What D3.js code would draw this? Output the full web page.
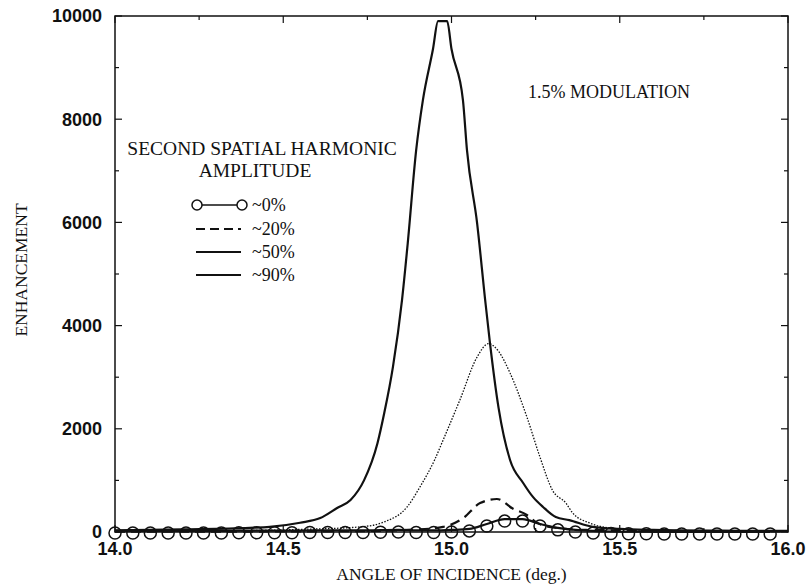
<!DOCTYPE html>
<html>
<head>
<meta charset="utf-8">
<script src="https://cdn.jsdelivr.net/npm/d3@7"></script>
<style>
  html, body { margin: 0; padding: 0; background: #fff; }
  svg { display: block; }
</style>
</head>
<body>
<div id="chart"></div>
<script>
// ~90% (solid)
const angle90 = [14.0, 14.2, 14.4, 14.46, 14.55, 14.61, 14.66, 14.70, 14.74, 14.78, 14.80, 14.826, 14.853, 14.87, 14.895, 14.915, 14.945, 14.96, 14.987, 15.0, 15.034, 15.046, 15.076, 15.10, 15.114, 15.14, 15.174, 15.213, 15.242, 15.272, 15.31, 15.35, 15.42, 15.5, 15.6, 15.8, 16.0]
const value90 = [30, 50, 80, 100, 180, 270, 465, 620, 1000, 1720, 2300, 3200, 4500, 5600, 7400, 8370, 9360, 9900, 9900, 9360, 8370, 7400, 5990, 4500, 3680, 2400, 1395, 950, 680, 485, 290, 230, 100, 60, 40, 25, 20]

// ~50% (dotted)
const angle50 = [14.0, 14.3, 14.55, 14.73, 14.80, 14.868, 14.906, 14.95, 14.975, 15.025, 15.076, 15.11, 15.14, 15.174, 15.224, 15.263, 15.30, 15.34, 15.36, 15.41, 15.47, 15.6, 16.0]
const value50 = [10, 20, 50, 100, 195, 485, 870, 1400, 1780, 2560, 3390, 3650, 3500, 3080, 2230, 1450, 810, 560, 370, 175, 80, 30, 15]

// ~20% (dashed)
const angle20 = [14.0, 14.7, 14.9, 14.975, 15.035, 15.085, 15.135, 15.183, 15.224, 15.25, 15.29, 15.4, 16.0]
const value20 = [5, 15, 50, 100, 270, 560, 640, 450, 330, 195, 100, 40, 10]

// ~0% (line with circles)
const angle0 = [14.0, 14.053, 14.105, 14.158, 14.211, 14.263, 14.316, 14.368, 14.421, 14.474, 14.526, 14.579, 14.632, 14.684, 14.737, 14.789, 14.842, 14.895, 14.947, 15.0, 15.053, 15.105, 15.158, 15.211, 15.263, 15.316, 15.368, 15.421, 15.474, 15.526, 15.579, 15.632, 15.684, 15.737, 15.789, 15.842, 15.895, 15.947]
const value0 = [20, 20, 20, 20, 20, 20, 20, 25, 25, 25, 25, 30, 30, 30, 30, 35, 40, 30, 30, 40, 60, 155, 250, 250, 155, 80, 40, 20, 10, 5, 5, 0, 0, 0, 0, 0, 0, 0]

const xTicks = [14.0, 14.5, 15.0, 15.5, 16.0]
const yTicks = [0, 2000, 4000, 6000, 8000, 10000]
const legendLabels = ["~0%", "~20%", "~50%", "~90%"]

const W = 809, H = 588
const m = {left: 115, right: 21, top: 16, bottom: 56}

const svg = d3.select('#chart')
    .append('svg')
    .attr('width', W)
    .attr('height', H)

const x = d3.scaleLinear([14, 16], [m.left, W - m.right])
const y = d3.scaleLinear([0, 10000], [H - m.bottom, m.top])

const ink = "#111"
const serif = "'Liberation Serif', 'DejaVu Serif', serif"
const sans = "'Liberation Sans', Arial, sans-serif"

// frame
svg.append("rect")
    .attr("x", x(14)).attr("y", y(10000))
    .attr("width", x(16) - x(14)).attr("height", y(0) - y(10000))
    .attr("fill", "none").attr("stroke", ink).attr("stroke-width", 1.5)

// ticks, pointing inward on all four sides
const g = svg.append("g").attr("stroke", ink).attr("stroke-width", 1.2)
d3.range(0, 10001, 1000).forEach(v => {
    const len = v % 2000 === 0 ? 7 : 4
    g.append("line").attr("x1", x(14)).attr("x2", x(14) + len).attr("y1", y(v)).attr("y2", y(v))
    g.append("line").attr("x1", x(16)).attr("x2", x(16) - len).attr("y1", y(v)).attr("y2", y(v))
})
d3.range(14, 16.001, 0.25).forEach(a => {
    const len = Math.abs(a * 2 - Math.round(a * 2)) < 1e-6 ? 7 : 4
    g.append("line").attr("x1", x(a)).attr("x2", x(a)).attr("y1", y(0)).attr("y2", y(0) - len)
    g.append("line").attr("x1", x(a)).attr("x2", x(a)).attr("y1", y(10000)).attr("y2", y(10000) + len)
})

// tick labels
svg.append("g")
    .attr("font-family", sans).attr("font-size", 18).attr("font-weight", "bold").attr("fill", ink)
    .attr("text-anchor", "end")
    .selectAll("text").data(yTicks).join("text")
    .attr("x", x(14) - 13).attr("y", d => y(d)).attr("dy", "0.36em")
    .text(d => d)

svg.append("g")
    .attr("font-family", sans).attr("font-size", 18).attr("font-weight", "bold").attr("fill", ink)
    .attr("text-anchor", "middle")
    .selectAll("text").data(xTicks).join("text")
    .attr("x", d => x(d)).attr("y", y(0) + 23)
    .text(d => d.toFixed(1))

// axis titles
svg.append("text")
    .attr("x", (x(14) + x(16)) / 2).attr("y", 580)
    .attr("text-anchor", "middle").attr("font-family", serif).attr("font-size", 17.5).attr("fill", ink)
    .text("ANGLE OF INCIDENCE (deg.)")

svg.append("text")
    .attr("transform", `translate(27,${(y(0) + y(10000)) / 2 - 4}) rotate(-90)`)
    .attr("text-anchor", "middle").attr("font-family", serif).attr("font-size", 17.5).attr("fill", ink)
    .text("ENHANCEMENT")

// curves
const line = d3.line().x(d => x(d[0])).y(d => y(d[1])).curve(d3.curveMonotoneX)
const pairs = (a, v) => a.map((d, i) => [d, v[i]])

svg.append("path").datum(pairs(angle90, value90))
    .attr("fill", "none").attr("stroke", ink).attr("stroke-width", 2.2)
    .attr("stroke-linejoin", "round").attr("d", line)

svg.append("path").datum(pairs(angle50, value50))
    .attr("fill", "none").attr("stroke", ink).attr("stroke-width", 1.3)
    .attr("stroke-dasharray", "1.5,1.5").attr("d", line)

svg.append("path").datum(pairs(angle20, value20))
    .attr("fill", "none").attr("stroke", ink).attr("stroke-width", 2.2)
    .attr("stroke-dasharray", "10,6").attr("d", line)

const data0 = pairs(angle0, value0)
svg.append("path").datum(data0)
    .attr("fill", "none").attr("stroke", ink).attr("stroke-width", 2.2).attr("d", line)
svg.append("g")
    .attr("fill", "none").attr("stroke", ink).attr("stroke-width", 1.5)
    .selectAll("circle").data(data0).join("circle")
    .attr("cx", d => x(d[0])).attr("cy", d => y(d[1]) + 2).attr("r", 6)

// annotation
svg.append("text")
    .attr("x", 528).attr("y", 98)
    .attr("font-family", serif).attr("font-size", 18).attr("fill", ink)
    .text("1.5% MODULATION")

// legend
svg.append("text")
    .attr("x", 262).attr("y", 155).attr("text-anchor", "middle")
    .attr("font-family", serif).attr("font-size", 19.5).attr("fill", ink)
    .text("SECOND SPATIAL HARMONIC")
svg.append("text")
    .attr("x", 255).attr("y", 177).attr("text-anchor", "middle")
    .attr("font-family", serif).attr("font-size", 19.5).attr("fill", ink)
    .text("AMPLITUDE")

const legendY = [205, 229, 252, 275]
const legendDash = [null, "9,5", null, null]
const legendWidth = [1.5, 2, 2, 2]
const leg = svg.append("g")
legendLabels.forEach((lab, i) => {
    const yy = legendY[i]
    leg.append("line")
        .attr("x1", i === 0 ? 202 : 196).attr("x2", i === 0 ? 237 : 241)
        .attr("y1", yy).attr("y2", yy)
        .attr("stroke", ink).attr("stroke-width", legendWidth[i])
        .attr("stroke-dasharray", legendDash[i])
    if (i === 0) {
        [197, 242].forEach(cx => leg.append("circle")
            .attr("cx", cx).attr("cy", yy).attr("r", 5)
            .attr("fill", "none").attr("stroke", ink).attr("stroke-width", 1.5))
    }
    leg.append("text")
        .attr("x", 252).attr("y", yy).attr("dy", "0.35em")
        .attr("font-family", serif).attr("font-size", 18).attr("fill", ink)
        .text(lab)
})
</script>
</body>
</html>
